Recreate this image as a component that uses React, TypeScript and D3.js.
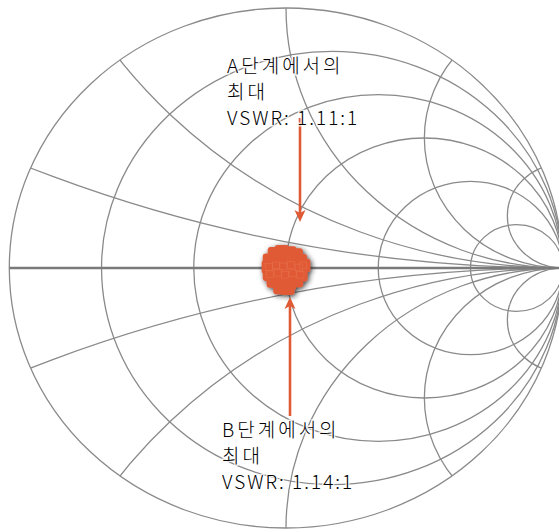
import React from "react";
import * as d3 from "d3";

// Smith chart grid values
const resistanceValues = [0.2, 0.5, 1, 2, 5];
const reactanceValues = [0.2, 0.5, 1, 2, 5, -0.2, -0.5, -1, -2, -5];

// Measured reflection coefficients (real, imaginary) for the test sweep
const gammaRe = [
  -0.040, -0.015, 0.012, 0.035,
  -0.058, -0.030, -0.005, 0.022, 0.050,
  -0.062, -0.036, -0.010, 0.018, 0.046, 0.062,
  -0.058, -0.030, -0.004, 0.024, 0.052,
  -0.044, -0.018, 0.010, 0.036,
  -0.020, 0.005,
];
const gammaIm = [
  0.055, 0.062, 0.058, 0.050,
  0.030, 0.034, 0.040, 0.032, 0.028,
  0.004, 0.010, 0.006, 0.012, 0.002, 0.010,
  -0.024, -0.018, -0.026, -0.020, -0.026,
  -0.050, -0.056, -0.060, -0.048,
  -0.075, -0.078,
];

// Annotation text
const labelA = ["A단계에서의", "최대", "VSWR: 1.11:1"];
const labelB = ["B단계에서의", "최대", "VSWR: 1.14:1"];

const W = 559;
const H = 532;
const cx = 286;
const cy = 268;
const rx = 276.7;
const ry = 260;

const GRID = "#8a8a8a";
const ACCENT = "#e05a36";

// vertical arrow with a barbed head, tip at (x, yTip)
function Arrow({ x, yTail, yTip }: { x: number; yTail: number; yTip: number }) {
  const dir = yTip > yTail ? 1 : -1;
  const len = 12;
  const hw = 5.5;
  const back = yTip - dir * len;
  const notch = yTip - dir * (len - 3);
  const head = d3.path();
  head.moveTo(x, yTip);
  head.lineTo(x - hw, back);
  head.lineTo(x, notch);
  head.lineTo(x + hw, back);
  head.closePath();
  return (
    <g>
      <line x1={x} x2={x} y1={yTail} y2={notch} stroke={ACCENT} strokeWidth={2.6} />
      <path d={head.toString()} fill={ACCENT} />
    </g>
  );
}

export default function App() {
  const x = d3.scaleLinear().domain([-1, 1]).range([cx - rx, cx + rx]);
  const y = d3.scaleLinear().domain([-1, 1]).range([cy + ry, cy - ry]);
  const sx = (d: number) => x(d) - x(0);
  const sy = (d: number) => y(0) - y(d);

  const half = 0.026;

  const textStyle: React.CSSProperties = {
    fontFamily: "'Noto Sans CJK KR', 'Noto Sans', sans-serif",
    fontSize: 19,
    fontWeight: 300,
  };

  return (
    <svg
      width={W}
      height={H}
      style={{ position: "absolute", left: 0, top: 0, background: "#fff" }}
    >
      <defs>
        <clipPath id="unit">
          <ellipse cx={x(0)} cy={y(0)} rx={sx(1)} ry={sy(1)} />
        </clipPath>
        <filter id="shadow" x="-50%" y="-50%" width="200%" height="200%">
          <feDropShadow dx="1.5" dy="1.5" stdDeviation="2.4" floodColor="#1a1a1a" floodOpacity="0.85" />
        </filter>
      </defs>

      {/* resistance circles */}
      <g fill="none" stroke={GRID} strokeWidth={1.3}>
        {resistanceValues.map((r) => (
          <ellipse
            key={"r" + r}
            cx={x(r / (1 + r))}
            cy={y(0)}
            rx={sx(1 / (1 + r))}
            ry={sy(1 / (1 + r))}
          />
        ))}
      </g>

      {/* reactance arcs */}
      <g fill="none" stroke={GRID} strokeWidth={1.3} clipPath="url(#unit)">
        {reactanceValues.map((xv) => (
          <ellipse
            key={"x" + xv}
            cx={x(1)}
            cy={y(1 / xv)}
            rx={sx(1 / Math.abs(xv))}
            ry={sy(1 / Math.abs(xv))}
          />
        ))}
      </g>

      {/* outer boundary and real axis */}
      <ellipse cx={x(0)} cy={y(0)} rx={sx(1)} ry={sy(1)} fill="none" stroke={GRID} strokeWidth={1.3} />
      <line x1={x(-1)} x2={x(1)} y1={y(0)} y2={y(0)} stroke="#7a7a7a" strokeWidth={2.4} />

      {/* measured points */}
      <g filter="url(#shadow)">
        {gammaRe.map((re, i) => (
          <rect
            key={i}
            x={x(re - half)}
            y={y(gammaIm[i] + half)}
            width={sx(2 * half)}
            height={sy(2 * half)}
            rx={3}
            fill={ACCENT}
          />
        ))}
      </g>
      <g fill="none" stroke="#ee8566" strokeWidth={0.6} opacity={0.45}>
        {gammaRe.slice(9, 20).map((re, i) => (
          <rect
            key={i}
            x={x(re - half * 0.5)}
            y={y(gammaIm[i + 9] + half * 0.5)}
            width={sx(half)}
            height={sy(half)}
          />
        ))}
      </g>

      {/* annotation arrows */}
      <Arrow x={300} yTail={118} yTip={222} />
      <Arrow x={290} yTail={416} yTip={297} />

      {/* annotation labels */}
      <g
        style={textStyle}
        fill="#000"
        stroke="#fff"
        strokeWidth={3}
        strokeOpacity={0.75}
        paintOrder="stroke"
      >
        {labelA.map((t, i) => (
          <text key={"a" + i} x={227} y={73 + i * 26} letterSpacing={i < 2 ? 3 : 2}>
            {t}
          </text>
        ))}
        {labelB.map((t, i) => (
          <text key={"b" + i} x={222} y={437 + i * 26} letterSpacing={i < 2 ? 3 : 2}>
            {t}
          </text>
        ))}
      </g>
    </svg>
  );
}
